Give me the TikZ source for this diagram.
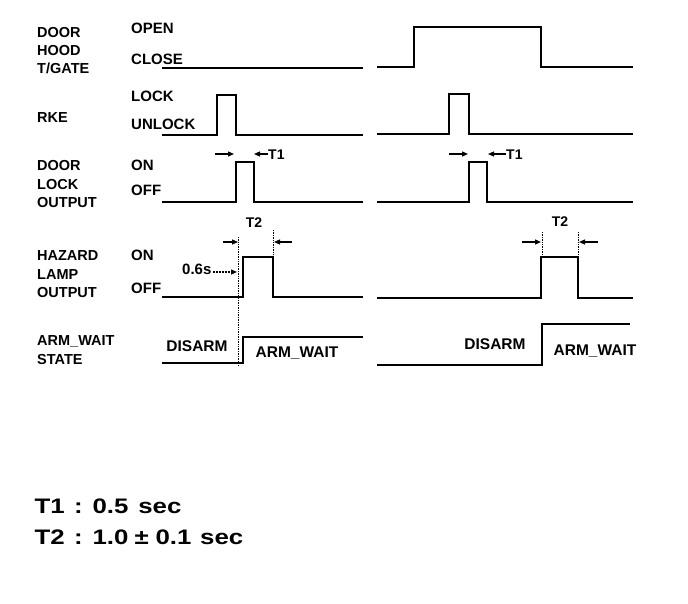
\documentclass[tikz,border=0pt]{standalone}
\usepackage{fontspec}
\setmainfont{Liberation Sans}
\usetikzlibrary{arrows.meta}
\begin{document}
\begin{tikzpicture}[x=1pt,y=-1pt,
  sig/.style={line width=1.9pt, line join=miter, line cap=butt},
  guide/.style={line width=0.7pt, densely dotted},
  dim/.style={line width=1.2pt, -{Triangle[length=6pt,width=5pt]}},
  lbl/.style={anchor=west, inner sep=0pt, text height=0.716em, text depth=0pt, font=\fontsize{14.5}{17}\selectfont\bfseries},
  lvl/.style={anchor=west, inner sep=0pt, text height=0.716em, text depth=0pt, font=\fontsize{15}{18}\selectfont\bfseries},
  small/.style={inner sep=0pt, text height=0.716em, text depth=0pt, font=\fontsize{14}{16}\selectfont\bfseries},
  statetxt/.style={inner sep=0pt, text height=0.716em, text depth=0pt, font=\fontsize{15.5}{18}\selectfont\bfseries},
  big/.style={anchor=west, inner sep=0pt, text height=0.716em, text depth=0pt, font=\fontsize{21}{24}\selectfont\bfseries}
]
\fill[white] (0,0) rectangle (688,604);
\useasboundingbox (0,0) rectangle (688,604);

% signal names
\node[lbl] (doorL) at (37,34) {DOOR};
\node[lbl] (hoodL) at (37,52) {HOOD};
\node[lbl] (tgateL) at (37,70) {T/GATE};
\node[lbl] (rkeL) at (37,119) {RKE};
\node[lbl] (dlDoor) at (37,167) {DOOR};
\node[lbl] (dlLock) at (37,186) {LOCK};
\node[lbl] (dlOut) at (37,204) {OUTPUT};
\node[lbl] (hzA) at (37,257) {HAZARD};
\node[lbl] (hzB) at (37,276) {LAMP};
\node[lbl] (hzC) at (37,294) {OUTPUT};
\node[lbl] (stA) at (37,342) {ARM\_WAIT};
\node[lbl] (stB) at (37,361) {STATE};

% level names
\node[lvl] (open) at (131,30) {OPEN};
\node[lvl] (close) at (131,61) {CLOSE};
\node[lvl] (lock) at (131,97.5) {LOCK};
\node[lvl] (unlock) at (131,126) {UNLOCK};
\node[lvl] (on1) at (131,167) {ON};
\node[lvl] (off1) at (131,192) {OFF};
\node[lvl] (on2) at (131,257) {ON};
\node[lvl] (off2) at (131,290) {OFF};

% left panel signals
\draw[sig] (162,68) -- (363,68);
\draw[sig] (162,135) -| (217,95) -| (236,135) -- (363,135);
\draw[sig] (162,202) -| (236,162) -| (254,202) -- (363,202);
\draw[sig] (162,297) -| (243,257) -| (273,297) -- (363,297);
\draw[sig] (162,363) -| (243,337) -- (363,337);

% right panel signals
\draw[sig] (377,67) -| (414,27) -| (541,67) -- (633,67);
\draw[sig] (377,134) -| (449,94) -| (469,134) -- (633,134);
\draw[sig] (377,202) -| (469,162) -| (487,202) -- (633,202);
\draw[sig] (377,298) -| (541,257) -| (578,298) -- (633,298);
\draw[sig] (377,365) -| (542,324) -- (630,324);

% guides
\draw[guide] (238,237) -- (238,365);
\draw[guide] (273,230) -- (273,257);
\draw[guide] (542,232) -- (542,257);
\draw[guide] (578,232) -- (578,257);

% T1 left
\coordinate (t1a) at (215,154); \coordinate (t1b) at (234,154);
\coordinate (t1c) at (268,154); \coordinate (t1d) at (254,154);
\draw[dim] (t1a) -- (t1b);
\draw[dim] (t1c) -- (t1d);
\node[small, anchor=west] (t1L) at (268,156) {T1};
% T1 right
\coordinate (t1e) at (449,154); \coordinate (t1f) at (468,154);
\coordinate (t1g) at (506,154); \coordinate (t1h) at (488,154);
\draw[dim] (t1e) -- (t1f);
\draw[dim] (t1g) -- (t1h);
\node[small, anchor=west] (t1R) at (506,156) {T1};

% T2 left
\coordinate (t2a) at (223,242); \coordinate (t2b) at (238,242);
\coordinate (t2c) at (292,242); \coordinate (t2d) at (274,242);
\draw[dim] (t2a) -- (t2b);
\draw[dim] (t2c) -- (t2d);
\node[small] (t2L) at (254,224) {T2};
% T2 right
\coordinate (t2e) at (522,242); \coordinate (t2f) at (541,242);
\coordinate (t2g) at (598,242); \coordinate (t2h) at (579,242);
\draw[dim] (t2e) -- (t2f);
\draw[dim] (t2g) -- (t2h);
\node[small] (t2R) at (560,223) {T2};

% 0.6s
\node[small, anchor=west, font=\fontsize{15}{17}\selectfont\bfseries] (delay) at (182,271) {0.6s};
\coordinate (dlyEnd) at (237,272);
\draw[dim, dash pattern=on 2pt off 1pt] (delay.east) ++(1,1) -- (dlyEnd);

% state texts
\node[statetxt] (disL) at (197,348) {DISARM};
\node[statetxt] (armL) at (297,354) {ARM\_WAIT};
\node[statetxt] (disR) at (495,346) {DISARM};
\node[statetxt] (armR) at (595,352) {ARM\_WAIT};

% legend
\node[big] (leg1) at (34.5,509.5) {\scalebox{1.23}[1]{T1\hspace{7.6pt}:\hspace{8pt}0.5\hspace{8pt}sec}};
\node[big] (leg2) at (34.5,540.5) {\scalebox{1.23}[1]{T2\hspace{7.6pt}:\hspace{8pt}1.0\hspace{5pt}\textpm\hspace{5.5pt}0.1\hspace{7pt}sec}};
\end{tikzpicture}
\end{document}
